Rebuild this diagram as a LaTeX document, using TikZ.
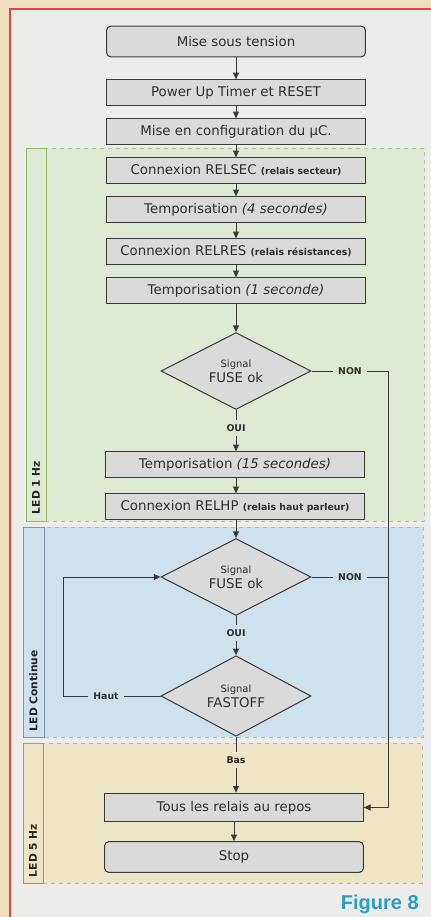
\documentclass[tikz,border=0pt]{standalone}
\usepackage{fontspec}
\setmainfont{DejaVu Sans}
\newfontfamily\figfont{Liberation Sans}
\usetikzlibrary{shapes.geometric,arrows.meta}

\definecolor{pagebg}{HTML}{EEDFC0}
\definecolor{panel}{HTML}{ECECEA}
\definecolor{framered}{HTML}{E0443A}
\definecolor{greenzone}{HTML}{DDE9D3}
\definecolor{greenedge}{HTML}{8DBB6A}
\definecolor{bluezone}{HTML}{CFE1EC}
\definecolor{blueedge}{HTML}{7F93B0}
\definecolor{yellowzone}{HTML}{EEE5C5}
\definecolor{yellowedge}{HTML}{E8785A}
\definecolor{zonedash}{HTML}{B4BDB0}
\definecolor{boxfill}{HTML}{DADADA}
\definecolor{linec}{HTML}{3A3A3A}
\definecolor{textc}{HTML}{2E2E2E}
\definecolor{figblue}{HTML}{2B9CC6}

\newcommand{\aside}[1]{{\bfseries\fontsize{7}{8}\selectfont #1}}
\newcommand{\slant}[1]{{\itshape #1}}

\tikzset{
  stepbox/.style={draw=linec, fill=boxfill, line width=0.75pt,
    minimum width=194pt, minimum height=19pt, inner sep=0pt,
    font=\fontsize{10}{12}\selectfont, text=textc},
  endbox/.style={stepbox, rounded corners=3pt, minimum height=23pt},
  test/.style={diamond, draw=linec, fill=boxfill, line width=0.75pt,
    minimum width=112.5pt, minimum height=57pt, inner sep=0pt,
    align=center, text=textc, font=\fontsize{10}{11}\selectfont},
  flow/.style={draw=linec, line width=0.6pt, -{Triangle[length=5pt,width=4.5pt]}},
  link/.style={draw=linec, line width=0.6pt},
  tag/.style={font=\bfseries\fontsize{7}{8}\selectfont, text=textc, inner sep=3.5pt},
  zone/.style={draw=zonedash, dashed, line width=0.4pt},
  strip/.style={line width=0.7pt},
  ledlabel/.style={rotate=90, anchor=west, inner sep=2pt,
    font=\bfseries\fontsize{8}{9}\selectfont, text=black!85}
}

\begin{document}
\begin{tikzpicture}[x=0.75pt, y=-0.75pt]
  \useasboundingbox (0,0) rectangle (431,917);

  % page and framed panel
  \fill[pagebg] (0,0) rectangle (431,917);
  \fill[panel] (10,9) rectangle (431,917);
  \draw[framered, line width=1.6pt] (431,9) -- (10,9) -- (10,917);

  % coloured zones with their side strips
  \fill[greenzone] (26,148) rectangle (424,521);
  \draw[zone] (26,148) rectangle (424,521);
  \draw[strip, draw=greenedge] (26,148) rectangle (46,521);
  \node[ledlabel] (led1) at (36,517) {LED 1 Hz};

  \fill[bluezone] (23,527) rectangle (423,737);
  \draw[zone] (23,527) rectangle (423,737);
  \draw[strip, draw=blueedge] (23,527) rectangle (44,737);
  \node[ledlabel] (ledc) at (33.5,734) {LED Continue};

  \fill[yellowzone] (23,743) rectangle (422,883);
  \draw[zone] (23,743) rectangle (422,883);
  \draw[strip, draw=yellowedge] (23,743) rectangle (43,883);
  \node[ledlabel] (led5) at (33,880) {LED 5 Hz};

  % process steps
  \node[endbox]  (b1) at (236,41.5)  {Mise sous tension};
  \node[stepbox] (b2) at (236,92.5)  {Power Up Timer et RESET};
  \node[stepbox] (b3) at (236,131.5) {Mise en configuration du µC.};
  \node[stepbox] (b4) at (236,170.5) {Connexion RELSEC \aside{(relais secteur)}};
  \node[stepbox] (b5) at (236,209.5) {Temporisation \slant{(4 secondes)}};
  \node[stepbox] (b6) at (236,251.5) {Connexion RELRES \aside{(relais résistances)}};
  \node[stepbox] (b7) at (236,290.5) {Temporisation \slant{(1 seconde)}};
  \node[test]    (d1) at (236,371)   {{\fontsize{7.5}{9}\selectfont Signal}\\FUSE ok};
  \node[stepbox] (b8) at (235,464.5) {Temporisation \slant{(15 secondes)}};
  \node[stepbox] (b9) at (235,506.5) {Connexion RELHP \aside{(relais haut parleur)}};
  \node[test]    (d2) at (236,577)   {{\fontsize{7.5}{9}\selectfont Signal}\\FUSE ok};
  \node[test]    (d3) at (236,696)   {{\fontsize{7.5}{9}\selectfont Signal}\\FASTOFF};
  \node[stepbox, minimum height=21.5pt] (b10) at (234,807.5) {Tous les relais au repos};
  \node[endbox]  (b11) at (234,857) {Stop};

  % branch labels
  \node[tag] (oui1) at (236,428) {OUI};
  \node[tag] (non1) at (350,371) {NON};
  \node[tag] (oui2) at (236,633) {OUI};
  \node[tag] (non2) at (350,577) {NON};
  \node[tag] (haut) at (106,696) {Haut};
  \node[tag] (bas)  at (236,760) {Bas};

  \coordinate (rside) at (388,371);
  \coordinate (lside) at (63,696);

  % main flow
  \draw[flow] (b1) -- (b2);
  \draw[flow] (b2) -- (b3);
  \draw[flow] (b3) -- (b4);
  \draw[flow] (b4) -- (b5);
  \draw[flow] (b5.south -| b6.north) -- (b6);
  \draw[flow] (b6) -- (b7);
  \draw[flow] (b7) -- (d1);
  \draw[link] (d1.south) -- (oui1.north);
  \draw[flow] (oui1.south) -- (oui1.south |- b8.north);
  \draw[flow] (b8.south -| d2.north) -- (b9.north -| d2.north);
  \draw[flow] (b9.south -| d2.north) -- (d2.north);
  \draw[link] (d2.south) -- (oui2.north);
  \draw[flow] (oui2.south) -- (d3.north);
  \draw[link] (d3.south) -- (bas.north);
  \draw[flow] (bas.south) -- (bas.south |- b10.north);
  \draw[flow] (b10) -- (b11);

  % exits to the relay reset
  \draw[link] (d1.east) -- (non1.west);
  \draw[flow] (non1.east) -- (rside) |- (b10.east);
  \draw[link] (d2.east) -- (non2.west);
  \draw[link] (non2.east) -- (non2.east -| rside);

  % polling loop back to the fuse test
  \draw[link] (d3.west) -- (haut.east);
  \draw[flow] (haut.west) -- (lside) |- (d2.west);

  % caption
  \node[anchor=base east, inner sep=0pt, text=figblue,
        font=\figfont\bfseries\fontsize{15}{18}\selectfont] (cap) at (419,909) {Figure 8};
\end{tikzpicture}
\end{document}
